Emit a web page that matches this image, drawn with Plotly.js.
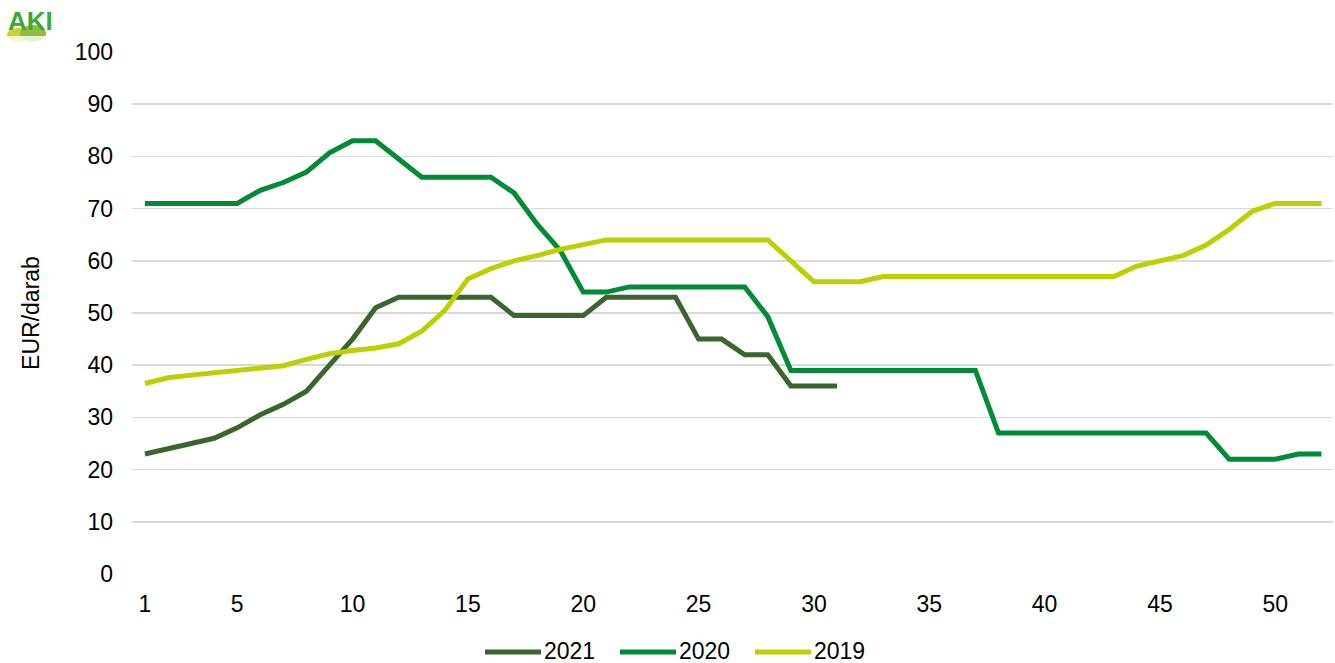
<!DOCTYPE html>
<html>
<head>
<meta charset="utf-8">
<script src="https://cdn.plot.ly/plotly-3.0.1.min.js"></script>
<style>html,body{margin:0;padding:0;background:#fff;}#chart{width:1335px;height:663px;}</style>
</head>
<body>
<div id="chart"></div>
<script>
const weeks = Array.from({length: 52}, (_, i) => i + 1);
const seriesNames = ["2021", "2020", "2019"];
const v2021 = [23, 24, 25, 26, 28, 30.5, 32.5, 35, 40, 45, 51, 53, 53, 53, 53, 53, 49.5, 49.5, 49.5, 49.5,
  53, 53, 53, 53, 45, 45, 42, 42, 36, 36, 36];
const v2020 = [71, 71, 71, 71, 71, 73.5, 75, 77, 80.7, 83, 83, 79.5, 76, 76, 76, 76, 73, 67, 62, 54,
  54, 55, 55, 55, 55, 55, 55, 49.3, 39, 39, 39, 39, 39, 39, 39, 39, 39, 27, 27, 27,
  27, 27, 27, 27, 27, 27, 27, 22, 22, 22, 23, 23];
const v2019 = [36.5, 37.6, 38.1, 38.5, 39, 39.4, 39.9, 41.1, 42.2, 42.8, 43.3, 44.1, 46.5, 50.5, 56.5, 58.5, 60, 61, 62.2, 63.1,
  64, 64, 64, 64, 64, 64, 64, 64, 60, 56, 56, 56, 57, 57, 57, 57, 57, 57, 57, 57,
  57, 57, 57, 59, 60, 61, 63, 66, 69.5, 71, 71, 71];
const xTickVals = [1, 5, 10, 15, 20, 25, 30, 35, 40, 45, 50];
const yTickVals = [0, 10, 20, 30, 40, 50, 60, 70, 80, 90, 100];
const colors = ["#3A652C", "#008C36", "#BDCF00"];
const allValues = [v2021, v2020, v2019];

const traces = allValues.map((vals, i) => ({
  type: "scatter",
  mode: "lines",
  name: seriesNames[i],
  x: weeks.slice(0, vals.length),
  y: vals,
  line: {color: colors[i], width: 5, shape: "linear"},
  showlegend: false
}));

const font = {family: "Liberation Sans, Arial, sans-serif", size: 23, color: "#000"};

// plot-area geometry helpers for the custom legend (paper coords)
const L = 132, R = 2, T = 52, B = 89, W = 1335, H = 663;
const pw = W - L - R, ph = H - T - B;
const px = p => (p - L) / pw;
const py = p => (H - B - p) / ph;

const legendStarts = [485, 620, 755];
const legendY = 651;
const shapes = [];
const annotations = [];
seriesNames.forEach((name, i) => {
  const s = legendStarts[i];
  shapes.push({type: "line", xref: "paper", yref: "paper",
    x0: px(s), x1: px(s + 56), y0: py(legendY + 1), y1: py(legendY + 1),
    line: {color: colors[i], width: 5}});
  annotations.push({xref: "paper", yref: "paper", x: px(s + 58), y: py(legendY),
    xanchor: "left", yanchor: "middle", text: name, showarrow: false, font: font,
    height: 22, borderpad: 0});
});

// AKI logo approximation
annotations.push({xref: "paper", yref: "paper", x: px(6), y: py(21), xanchor: "left", yanchor: "middle",
  text: "<b>AKI</b>", showarrow: false,
  font: {family: "Liberation Sans, Arial, sans-serif", size: 26, color: "#3AAA35"}});
shapes.push({type: "circle", xref: "paper", yref: "paper", x0: px(7), x1: px(31), y0: py(42), y1: py(28),
  fillcolor: "#C6D52A", line: {width: 0}, layer: "above"});
shapes.push({type: "circle", xref: "paper", yref: "paper", x0: px(20), x1: px(46), y0: py(42), y1: py(25),
  fillcolor: "#8DBE3C", line: {width: 0}, layer: "above"});
shapes.push({type: "rect", xref: "paper", yref: "paper", x0: px(0), x1: px(60), y0: py(48), y1: py(36),
  fillcolor: "rgba(255,255,255,0.8)", line: {width: 0}, layer: "above"});

const layout = {
  width: W, height: H,
  margin: {l: L, r: R, t: T, b: B},
  paper_bgcolor: "#fff", plot_bgcolor: "#fff",
  font: font,
  showlegend: false,
  xaxis: {
    range: [0.44, 52.5], tickmode: "array", tickvals: xTickVals, ticktext: xTickVals.map(String),
    showgrid: false, zeroline: false, showline: false, ticks: "",
    ticklabelstandoff: 14, tickfont: font, fixedrange: true
  },
  yaxis: {
    range: [0, 100], tickmode: "array", tickvals: yTickVals, ticktext: yTickVals.map(String),
    showgrid: true, gridcolor: "#D9D9D9", gridwidth: 1.5, zeroline: false, showline: false, ticks: "",
    ticklabelstandoff: 18, tickfont: font,
    title: {text: "EUR/darab", font: font, standoff: 28}, fixedrange: true
  },
  annotations: annotations,
  shapes: shapes
};

Plotly.newPlot("chart", traces, layout, {displayModeBar: false, staticPlot: true});
</script>
</body>
</html>
